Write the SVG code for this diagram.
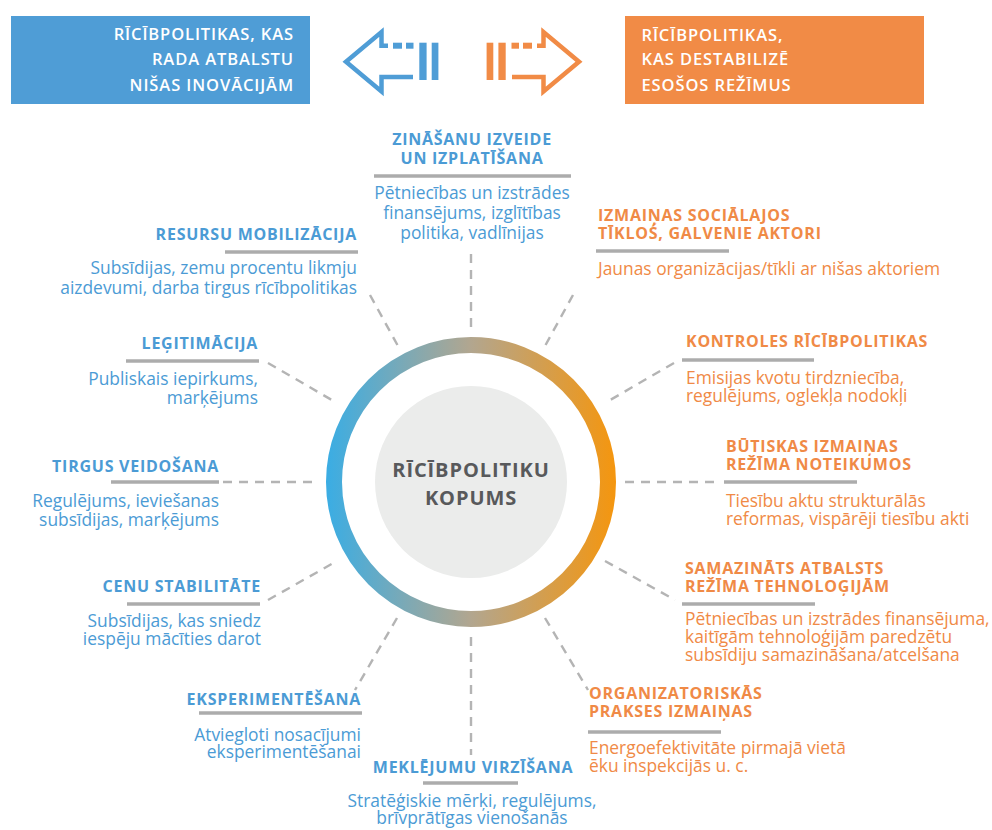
<svg xmlns="http://www.w3.org/2000/svg" xmlns:xlink="http://www.w3.org/1999/xlink" width="992" height="830" viewBox="0 0 992 830">
<defs>
<linearGradient id="ring" gradientUnits="userSpaceOnUse" x1="326" y1="0" x2="616" y2="0">
<stop offset="0" stop-color="#3aade4"/>
<stop offset="0.5" stop-color="#b2a68f"/>
<stop offset="1" stop-color="#f5960e"/>
</linearGradient>
<g id="arr">
<path d="M413 77 L381.5 77 L381.5 91.5 L346 61.7 L381.5 32 L381.5 45.7 L388 45.7" fill="none" stroke="currentColor" stroke-width="4.5" stroke-linejoin="miter" stroke-miterlimit="10"/>
<rect x="393" y="42.7" width="9" height="6" fill="currentColor"/>
<rect x="406" y="42.7" width="7.5" height="6" fill="currentColor"/>
<rect x="419.3" y="42.7" width="7.3" height="37.3" fill="currentColor"/>
<rect x="431.7" y="42.7" width="6.7" height="37.3" fill="currentColor"/>
</g>
</defs>
<style>
text{font-family:"Open Sans","Noto Sans","DejaVu Sans",sans-serif}
.box{font-size:16.5px;font-weight:600;fill:#fff;letter-spacing:0.9px}
.hb{font-size:16px;font-weight:700;fill:#4b9bd5;letter-spacing:0.75px}
.ho{font-size:16px;font-weight:700;fill:#f08a46;letter-spacing:0.75px}
.bb{font-size:17.4px;fill:#4b9bd5}
.bo{font-size:17.4px;fill:#f08a46}
.ct{font-size:20px;font-weight:700;fill:#58595b;letter-spacing:0.9px}
.sep{stroke:#acacac;stroke-width:3.4}
.dash{stroke:#b4b4b4;stroke-width:2.4;stroke-dasharray:9 7;fill:none}
.e{text-anchor:end}
.m{text-anchor:middle}
</style>
<rect width="992" height="830" fill="#fff"/>

<g id="box-niche">
<rect x="11" y="16" width="299" height="88" fill="#4f9dd6"/>
<text class="box e" x="294" y="40">RĪCĪBPOLITIKAS, KAS</text>
<text class="box e" x="294" y="65">RADA ATBALSTU</text>
<text class="box e" x="294" y="90.5">NIŠAS INOVĀCIJĀM</text>
</g>
<g id="box-destab">
<rect x="625" y="16" width="299" height="88" fill="#f18b46"/>
<text class="box" x="641.5" y="40.5">RĪCĪBPOLITIKAS,</text>
<text class="box" x="641.5" y="65">KAS DESTABILIZĒ</text>
<text class="box" x="641.5" y="90.5">ESOŠOS REŽĪMUS</text>
</g>
<g id="arrows">
<use xlink:href="#arr" href="#arr" color="#4f9dd6"/>
<use xlink:href="#arr" href="#arr" color="#f18b46" transform="translate(925 0) scale(-1 1)"/>
</g>

<g id="connectors">
<line class="dash" x1="471" y1="254" x2="471" y2="327"/>
<line class="dash" x1="370" y1="295" x2="398" y2="346"/>
<line class="dash" x1="573" y1="295" x2="545" y2="346"/>
<line class="dash" x1="268" y1="363" x2="337" y2="403"/>
<line class="dash" x1="674" y1="363" x2="605" y2="403"/>
<line class="dash" x1="223" y1="482" x2="317" y2="482"/>
<line class="dash" x1="625" y1="482" x2="720" y2="482"/>
<line class="dash" x1="268" y1="600" x2="337" y2="561"/>
<line class="dash" x1="605" y1="561" x2="675" y2="600"/>
<line class="dash" x1="397" y1="618" x2="355" y2="690"/>
<line class="dash" x1="471" y1="637" x2="471" y2="755"/>
<line class="dash" x1="545" y1="618" x2="588" y2="690"/>
</g>

<g id="center">
<circle cx="471" cy="482" r="137" fill="none" stroke="url(#ring)" stroke-width="16"/>
<circle cx="471" cy="482" r="96" fill="#ebeceb"/>
<text class="ct m" x="471" y="477">RĪCĪBPOLITIKU</text>
<text class="ct m" x="471" y="504.5">KOPUMS</text>
</g>

<g id="n-zinasanu">
<text class="hb m" x="472" y="144.5">ZINĀŠANU IZVEIDE</text>
<text class="hb m" x="472" y="163.5">UN IZPLATĪŠANA</text>
<line class="sep" x1="374" y1="176" x2="571" y2="176"/>
<text class="bb m" x="472" y="199">Pētniecības un izstrādes</text>
<text class="bb m" x="472" y="219">finansējums, izglītības</text>
<text class="bb m" x="472" y="238.5">politika, vadlīnijas</text>
</g>

<g id="n-resursu">
<text class="hb e" x="357" y="240">RESURSU MOBILIZĀCIJA</text>
<line class="sep" x1="225" y1="252" x2="358" y2="252"/>
<text class="bb e" x="357" y="274">Subsīdijas, zemu procentu likmju</text>
<text class="bb e" x="357" y="294">aizdevumi, darba tirgus rīcībpolitikas</text>
</g>

<g id="n-izmainas">
<text class="ho" x="598" y="221">IZMAIŅAS SOCIĀLAJOS</text>
<text class="ho" x="598" y="238.5">TĪKLOŚ, GALVENIE AKTORI</text>
<line class="sep" x1="596" y1="251" x2="729" y2="251"/>
<text class="bo" x="598" y="275">Jaunas organizācijas/tīkli ar nišas aktoriem</text>
</g>

<g id="n-kontroles">
<text class="ho" x="686" y="347">KONTROLES RĪCĪBPOLITIKAS</text>
<line class="sep" x1="682" y1="360" x2="814" y2="360"/>
<text class="bo" x="686" y="383.5">Emisijas kvotu tirdzniecība,</text>
<text class="bo" x="686" y="402">regulējums, oglekļa nodokļi</text>
</g>

<g id="n-legitimacija">
<text class="hb e" x="258" y="349">LEĢITIMĀCIJA</text>
<line class="sep" x1="126" y1="361" x2="259" y2="361"/>
<text class="bb e" x="258" y="385">Publiskais iepirkums,</text>
<text class="bb e" x="258" y="404">marķējums</text>
</g>

<g id="n-tirgus">
<text class="hb e" x="219" y="472">TIRGUS VEIDOŠANA</text>
<line class="sep" x1="111" y1="482" x2="219" y2="482"/>
<text class="bb e" x="219" y="507">Regulējums, ieviešanas</text>
<text class="bb e" x="219" y="526">subsīdijas, marķējums</text>
</g>

<g id="n-butiskas">
<text class="ho" x="726" y="452">BŪTISKAS IZMAIŅAS</text>
<text class="ho" x="726" y="469.5">REŽĪMA NOTEIKUMOS</text>
<line class="sep" x1="724" y1="482" x2="857" y2="482"/>
<text class="bo" x="726" y="507">Tiesību aktu strukturālās</text>
<text class="bo" x="726" y="524.5">reformas, vispārēji tiesību akti</text>
</g>

<g id="n-cenu">
<text class="hb e" x="261" y="592">CENU STABILITĀTE</text>
<line class="sep" x1="127" y1="604" x2="260" y2="604"/>
<text class="bb e" x="261" y="627">Subsīdijas, kas sniedz</text>
<text class="bb e" x="261" y="645">iespēju mācīties darot</text>
</g>

<g id="n-samazinats">
<text class="ho" x="685" y="573.5">SAMAZINĀTS ATBALSTS</text>
<text class="ho" x="685" y="591.5">REŽĪMA TEHNOLOĢIJĀM</text>
<line class="sep" x1="682" y1="604" x2="815" y2="604"/>
<text class="bo" x="685" y="625">Pētniecības un izstrādes finansējuma,</text>
<text class="bo" x="685" y="643">kaitīgām tehnoloģijām paredzētu</text>
<text class="bo" x="685" y="660.5">subsīdiju samazināšana/atcelšana</text>
</g>

<g id="n-eksperimentesana">
<text class="hb e" x="361" y="705">EKSPERIMENTĒŠANA</text>
<line class="sep" x1="199" y1="713" x2="362" y2="713"/>
<text class="bb e" x="361" y="741">Atviegloti nosacījumi</text>
<text class="bb e" x="361" y="757.5">eksperimentēšanai</text>
</g>

<g id="n-meklejumu">
<text class="hb m" x="473" y="773">MEKLĒJUMU VIRZĪŠANA</text>
<line class="sep" x1="423" y1="783" x2="518" y2="783"/>
<text class="bb m" x="472" y="807">Stratēģiskie mērķi, regulējums,</text>
<text class="bb m" x="472" y="823.5">brīvprātīgas vienošanās</text>
</g>

<g id="n-organizatoriskas">
<text class="ho" x="589" y="699">ORGANIZATORISKĀS</text>
<text class="ho" x="589" y="717">PRAKSES IZMAIŅAS</text>
<line class="sep" x1="588" y1="732" x2="721" y2="732"/>
<text class="bo" x="589" y="753.5">Energoefektivitāte pirmajā vietā</text>
<text class="bo" x="589" y="772">ēku inspekcijās u. c.</text>
</g>
</svg>
